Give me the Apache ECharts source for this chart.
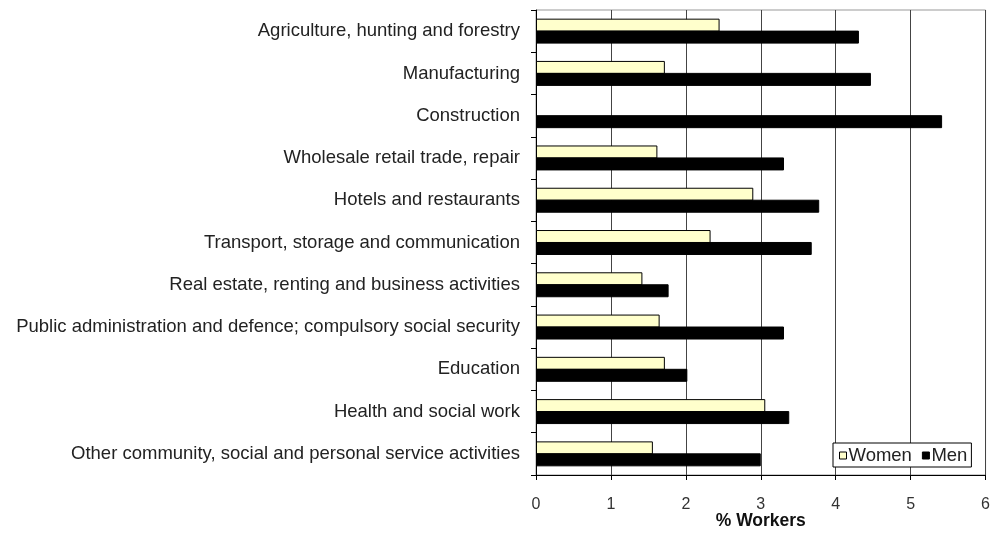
<!DOCTYPE html>
<html>
<head>
<meta charset="utf-8">
<script src="https://cdn.jsdelivr.net/npm/echarts@6/dist/echarts.min.js"></script>
<style>
  html, body { margin: 0; padding: 0; background: #fff; }
  #chart { width: 993px; height: 543px; }
</style>
</head>
<body>
<div id="chart"></div>
<script>
// Sectors, listed top to bottom
const sectors = [
  'Agriculture, hunting and forestry',
  'Manufacturing',
  'Construction',
  'Wholesale retail trade, repair',
  'Hotels and restaurants',
  'Transport, storage and communication',
  'Real estate, renting and business activities',
  'Public administration and defence; compulsory social security',
  'Education',
  'Health and social work',
  'Other community, social and personal service activities'
];

// % of workers, by sex
const women = [2.45, 1.72, 0, 1.62, 2.9, 2.33, 1.42, 1.65, 1.72, 3.06, 1.56];
const men   = [4.31, 4.47, 5.42, 3.31, 3.78, 3.68, 1.77, 3.31, 2.02, 3.38, 3.0];

const xTicks = [0, 1, 2, 3, 4, 5, 6];

// a zero-length bar gets no outline, so nothing is drawn for it
const withOutline = v => v === 0
  ? { value: v, itemStyle: { borderWidth: 0 } }
  : v;

const chart = echarts.init(document.getElementById('chart'), null, { renderer: 'canvas' });

chart.setOption({
  animation: false,
  textStyle: { fontFamily: 'Liberation Sans, Arial, sans-serif' },
  grid: {
    left: 536, right: 7, top: 10, bottom: 68,
    show: true, borderColor: '#999', borderWidth: 1, backgroundColor: '#fff'
  },
  legend: {
    left: 833, top: 443,
    orient: 'horizontal',
    backgroundColor: '#fff',
    borderColor: '#000', borderWidth: 1,
    padding: [3, 4, 2, 6],
    itemWidth: 7, itemHeight: 7, itemGap: 10,
    icon: 'rect',
    textStyle: { fontSize: 18.5, color: '#222', padding: [0, 0, 0, -3] },
    data: [
      { name: 'Women', itemStyle: { color: '#FFFFCC', borderColor: '#000', borderWidth: 1 } },
      { name: 'Men', itemStyle: { color: '#000', borderColor: '#000', borderWidth: 1 } }
    ]
  },
  xAxis: {
    type: 'value',
    min: xTicks[0], max: xTicks[xTicks.length - 1], interval: 1,
    name: '% Workers',
    nameLocation: 'middle',
    nameGap: 37,
    nameMoveOverlap: false,
    nameTextStyle: { fontSize: 17.5, fontWeight: 'bold', color: '#111', verticalAlign: 'top' },
    axisLine: { show: true, lineStyle: { color: '#000', width: 1 } },
    axisTick: { show: true, length: 5, lineStyle: { color: '#000' } },
    axisLabel: { fontSize: 16, color: '#333', margin: 22 },
    splitLine: { show: true, lineStyle: { color: '#444', width: 1 } }
  },
  yAxis: {
    type: 'category',
    inverse: true,
    data: sectors,
    axisLine: { show: true, lineStyle: { color: '#000', width: 1 } },
    axisTick: { show: true, length: 5, alignWithLabel: false, lineStyle: { color: '#000' } },
    axisLabel: { fontSize: 18.5, color: '#222', margin: 16 },
    splitLine: { show: false }
  },
  series: [
    {
      name: 'Women',
      type: 'bar',
      data: women.map(withOutline),
      barWidth: 13,
      barGap: '-8%',
      itemStyle: { color: '#FFFFCC', borderColor: '#000', borderWidth: 1 }
    },
    {
      name: 'Men',
      type: 'bar',
      data: men,
      barWidth: 13,
      itemStyle: { color: '#000', borderColor: '#000', borderWidth: 1 }
    }
  ]
});
</script>
</body>
</html>
